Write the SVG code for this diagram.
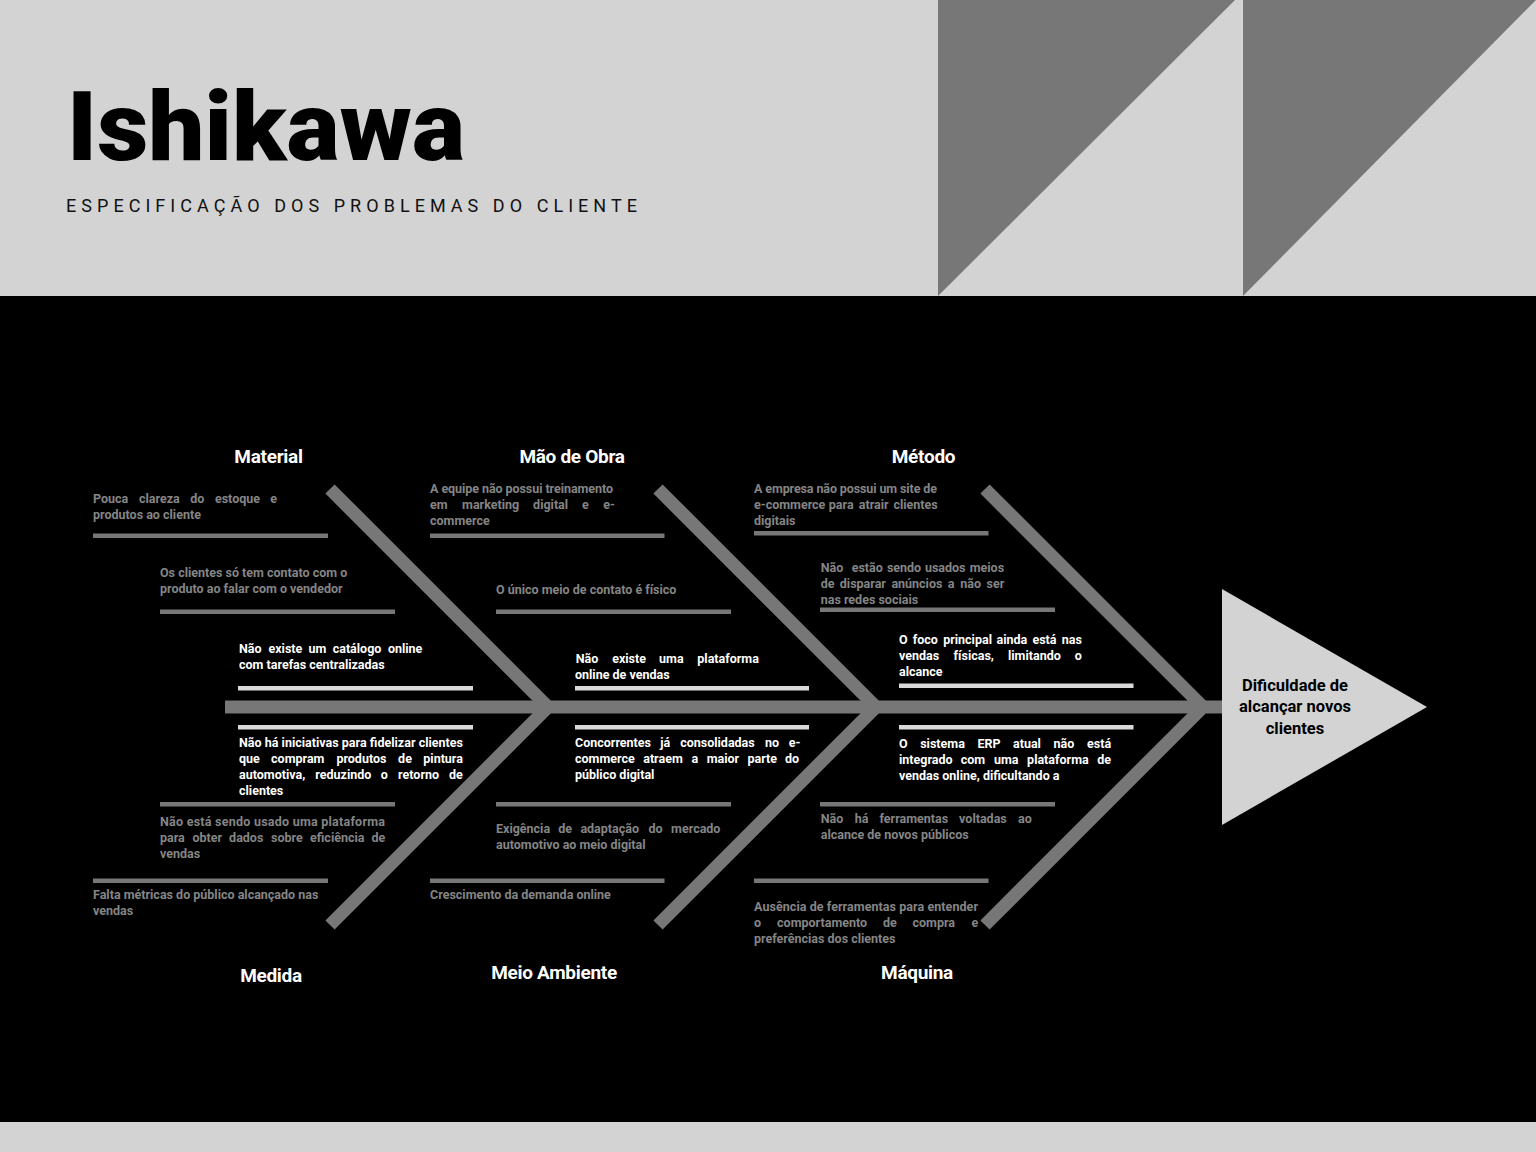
<svg xmlns="http://www.w3.org/2000/svg" width="1536" height="1152" viewBox="0 0 1536 1152">
<style>
.g{font-family:Roboto,"Liberation Sans",sans-serif;font-size:12.5px;font-weight:700;fill:#858585}
.w{font-family:Roboto,"Liberation Sans",sans-serif;font-size:12.5px;font-weight:700;fill:#ffffff}
.cat{font-family:Roboto,"Liberation Sans",sans-serif;font-size:19px;font-weight:700;fill:#ffffff;text-anchor:middle;letter-spacing:-0.3px}
.gb{fill:#777777}
.lb{fill:#d9d9d9}
.bone{stroke:#777777;stroke-width:13;fill:none;stroke-linecap:butt;stroke-linejoin:miter}
</style>
<rect x="0" y="0" width="1536" height="296" fill="#d3d3d3"/>
<rect x="0" y="296" width="1536" height="826" fill="#000000"/>
<rect x="0" y="1122" width="1536" height="30" fill="#d3d3d3"/>
<polygon points="938,0 1235,0 938,296" fill="#777777"/>
<polygon points="1243,0 1536,0 1243,296" fill="#777777"/>
<g id="title">
<text x="67" y="160" font-family="Roboto,'Liberation Sans',sans-serif" font-size="97" font-weight="900" fill="#000" textLength="398" lengthAdjust="spacingAndGlyphs">Ishikawa</text>
<text x="66" y="212" font-family="Roboto,'Liberation Sans',sans-serif" font-size="18" fill="#111" textLength="571" lengthAdjust="spacing">ESPECIFICAÇÃO DOS PROBLEMAS DO CLIENTE</text>
</g>
<g id="connectors">
<rect x="225" y="700.5" width="1000" height="13" fill="#777777"/>
<polyline class="bone" points="330,489 548,707 330,925"/>
<polyline class="bone" points="658,489 876,707 658,925"/>
<polyline class="bone" points="985,489 1203,707 985,925"/>
</g>
<g id="effect">
<polygon points="1222,589 1427,707 1222,825" fill="#d3d3d3"/>
<text font-family="Roboto,'Liberation Sans',sans-serif" font-size="16.5" font-weight="700" fill="#000" text-anchor="middle"><tspan x="1295" y="691">Dificuldade de</tspan><tspan x="1295" y="712">alcançar novos</tspan><tspan x="1295" y="734">clientes</tspan></text>
</g>
<g id="material">
<text class="cat" x="268.5" y="463">Material</text>
<text class="g" y="503"><tspan x="93">Pouca</tspan><tspan x="139">clareza</tspan><tspan x="190.3">do</tspan><tspan x="214.9">estoque</tspan><tspan x="270.3">e</tspan></text>
<text class="g" x="93" y="519">produtos ao cliente</text>
<rect class="gb" x="93" y="533.5" width="235" height="4.5"/>
<text class="g" x="160" y="577">Os clientes só tem contato com o</text>
<text class="g" x="160" y="593">produto ao falar com o vendedor</text>
<rect class="gb" x="160" y="609.5" width="235" height="4.5"/>
<text class="w" y="653"><tspan x="239">Não</tspan><tspan x="268.5">existe</tspan><tspan x="308.4">um</tspan><tspan x="332.7">catálogo</tspan><tspan x="387.9">online</tspan></text>
<text class="w" x="239" y="669">com tarefas centralizadas</text>
<rect class="lb" x="238" y="686" width="235" height="4.5"/>
</g>
<g id="medida">
<rect class="lb" x="238" y="725" width="235" height="4.5"/>
<text class="w" x="239" y="747" textLength="224" lengthAdjust="spacing">Não há iniciativas para fidelizar clientes</text>
<text class="w" y="763"><tspan x="239">que</tspan><tspan x="271.1">compram</tspan><tspan x="336.4">produtos</tspan><tspan x="398.1">de</tspan><tspan x="423.3">pintura</tspan></text>
<text class="w" y="779"><tspan x="239">automotiva,</tspan><tspan x="315.3">reduzindo</tspan><tspan x="380.8">o</tspan><tspan x="398.1">retorno</tspan><tspan x="448.9">de</tspan></text>
<text class="w" x="239" y="795">clientes</text>
<rect class="gb" x="160" y="802" width="235" height="4.5"/>
<text class="g" x="160" y="826" textLength="225" lengthAdjust="spacing">Não está sendo usado uma plataforma</text>
<text class="g" y="842"><tspan x="160">para</tspan><tspan x="192.5">obter</tspan><tspan x="229.1">dados</tspan><tspan x="271">sobre</tspan><tspan x="310">eficiência</tspan><tspan x="371.4">de</tspan></text>
<text class="g" x="160" y="858">vendas</text>
<rect class="gb" x="93" y="878.5" width="235" height="4.5"/>
<text class="g" x="93" y="899">Falta métricas do público alcançado nas</text>
<text class="g" x="93" y="915">vendas</text>
<text class="cat" x="271" y="982">Medida</text>
</g>
<g id="mao-de-obra">
<text class="cat" x="572" y="463">Mão de Obra</text>
<text class="g" x="430" y="493" textLength="183" lengthAdjust="spacing">A equipe não possui treinamento</text>
<text class="g" y="509"><tspan x="430">em</tspan><tspan x="462.1">marketing</tspan><tspan x="533.1">digital</tspan><tspan x="582.1">e</tspan><tspan x="603.3">e-</tspan></text>
<text class="g" x="430" y="525">commerce</text>
<rect class="gb" x="430" y="533.5" width="234.5" height="4.5"/>
<text class="g" x="496" y="594">O único meio de contato é físico</text>
<rect class="gb" x="496" y="609.5" width="235" height="4.5"/>
<text class="w" y="663"><tspan x="575.7">Não</tspan><tspan x="612.2">existe</tspan><tspan x="659.1">uma</tspan><tspan x="697.3">plataforma</tspan></text>
<text class="w" x="575" y="679">online de vendas</text>
<rect class="lb" x="575" y="686" width="234" height="4.5"/>
</g>
<g id="meio-ambiente">
<rect class="lb" x="575" y="725" width="234" height="4.5"/>
<text class="w" y="747"><tspan x="575">Concorrentes</tspan><tspan x="660.3">já</tspan><tspan x="680.2">consolidadas</tspan><tspan x="764.9">no</tspan><tspan x="788.8">e-</tspan></text>
<text class="w" y="763"><tspan x="575">commerce</tspan><tspan x="643.2">atraem</tspan><tspan x="691.4">a</tspan><tspan x="706.7">maior</tspan><tspan x="747.5">parte</tspan><tspan x="784.9">do</tspan></text>
<text class="w" x="575" y="779">público digital</text>
<rect class="gb" x="496" y="802" width="235" height="4.5"/>
<text class="g" y="833"><tspan x="496">Exigência</tspan><tspan x="558.2">de</tspan><tspan x="580.4">adaptação</tspan><tspan x="648.4">do</tspan><tspan x="671.1">mercado</tspan></text>
<text class="g" x="496" y="849">automotivo ao meio digital</text>
<rect class="gb" x="430" y="878.5" width="234.5" height="4.5"/>
<text class="g" x="430" y="899">Crescimento da demanda online</text>
<text class="cat" x="554" y="979">Meio Ambiente</text>
</g>
<g id="metodo">
<text class="cat" x="923.5" y="463">Método</text>
<text class="g" x="754" y="493" textLength="183" lengthAdjust="spacing">A empresa não possui um site de</text>
<text class="g" y="509"><tspan x="754">e-commerce</tspan><tspan x="828.8">para</tspan><tspan x="858.8">atrair</tspan><tspan x="893.4">clientes</tspan></text>
<text class="g" x="754" y="525">digitais</text>
<rect class="gb" x="754" y="531" width="234.5" height="4.5"/>
<text class="g" y="572"><tspan x="820.7">Não</tspan><tspan x="851.7">estão</tspan><tspan x="886.9">sendo</tspan><tspan x="924.9">usados</tspan><tspan x="969.7">meios</tspan></text>
<text class="g" y="588"><tspan x="820.7">de</tspan><tspan x="839.8">disparar</tspan><tspan x="891.4">anúncios</tspan><tspan x="947.8">a</tspan><tspan x="960.2">não</tspan><tspan x="986.6">ser</tspan></text>
<text class="g" x="820.7" y="604">nas redes sociais</text>
<rect class="gb" x="820" y="607.5" width="235" height="4.5"/>
<text class="w" y="644"><tspan x="899">O</tspan><tspan x="912.8">foco</tspan><tspan x="943.2">principal</tspan><tspan x="996.5">ainda</tspan><tspan x="1032.4">está</tspan><tspan x="1061.7">nas</tspan></text>
<text class="w" y="660"><tspan x="899">vendas</tspan><tspan x="953.6">físicas,</tspan><tspan x="1008">limitando</tspan><tspan x="1074.8">o</tspan></text>
<text class="w" x="899" y="676">alcance</text>
<rect class="lb" x="899" y="683.5" width="234.5" height="4.5"/>
</g>
<g id="maquina">
<rect class="lb" x="899" y="725" width="234.5" height="4.5"/>
<text class="w" y="748"><tspan x="899">O</tspan><tspan x="920.2">sistema</tspan><tspan x="977.4">ERP</tspan><tspan x="1013">atual</tspan><tspan x="1053.5">não</tspan><tspan x="1087">está</tspan></text>
<text class="w" y="764"><tspan x="899">integrado</tspan><tspan x="960.7">com</tspan><tspan x="993.9">uma</tspan><tspan x="1027.1">plataforma</tspan><tspan x="1097.3">de</tspan></text>
<text class="w" x="899" y="780">vendas online, dificultando a</text>
<rect class="gb" x="820" y="802" width="235" height="4.5"/>
<text class="g" y="823"><tspan x="820.7">Não</tspan><tspan x="854.7">há</tspan><tspan x="879.5">ferramentas</tspan><tspan x="959.1">voltadas</tspan><tspan x="1018.1">ao</tspan></text>
<text class="g" x="820.7" y="839">alcance de novos públicos</text>
<rect class="gb" x="754" y="878.5" width="234.5" height="4.5"/>
<text class="g" x="754" y="911" textLength="224" lengthAdjust="spacing">Ausência de ferramentas para entender</text>
<text class="g" y="927"><tspan x="754">o</tspan><tspan x="777.1">comportamento</tspan><tspan x="882.9">de</tspan><tspan x="912.5">compra</tspan><tspan x="971.4">e</tspan></text>
<text class="g" x="754" y="943">preferências dos clientes</text>
<text class="cat" x="917" y="979">Máquina</text>
</g>
</svg>
